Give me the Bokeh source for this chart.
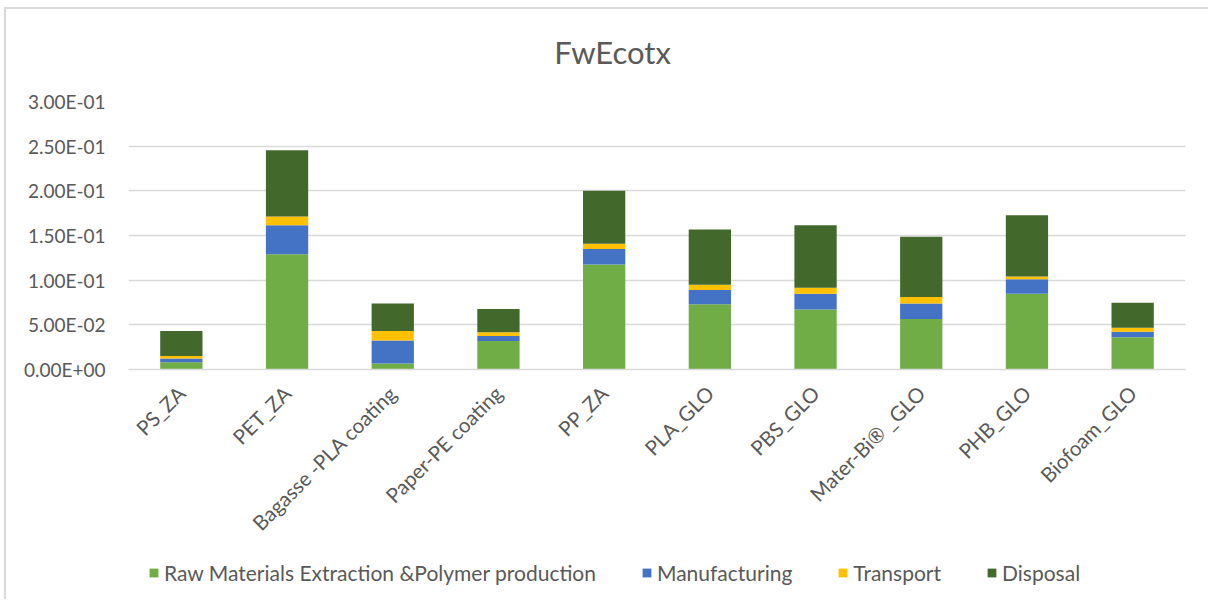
from bokeh.plotting import figure
from bokeh.layouts import column
from bokeh.models import (FixedTicker, CustomJSTickFormatter, Legend, LegendItem,
                          Label, Range1d)
from bokeh.embed import file_html
from bokeh.resources import INLINE
import math

# Freshwater ecotoxicity per life-cycle stage
categories = ["PS_ZA", "PET_ZA", "Bagasse -PLA coating", "Paper-PE coating", "PP_ZA",
              "PLA_GLO", "PBS_GLO", "Mater-Bi\u00ae _GLO", "PHB_GLO", "Biofoam_GLO"]
raw_materials = [0.0082, 0.1290, 0.0067, 0.0320, 0.1176, 0.0730, 0.0673, 0.0565, 0.0849, 0.0360]
manufacturing = [0.0041, 0.0326, 0.0258, 0.0056, 0.0172, 0.0161, 0.0176, 0.0175, 0.0161, 0.0063]
transport = [0.0027, 0.0097, 0.0105, 0.0042, 0.0060, 0.0057, 0.0067, 0.0072, 0.0030, 0.0044]
disposal = [0.0280, 0.0740, 0.0310, 0.0258, 0.0592, 0.0618, 0.0700, 0.0673, 0.0688, 0.0280]

stages = ["Raw Materials Extraction &Polymer production", "Manufacturing", "Transport", "Disposal"]
stage_keys = ["raw", "manuf", "trans", "disp"]
colors = ["#70ad47", "#4472c4", "#ffc000", "#43682b"]
y_ticks = [0.0, 0.05, 0.10, 0.15, 0.20, 0.25, 0.30]
chart_title = "FwEcotx"

FONT = "Lato"
GREY = "#595959"
W = 1202
BORDER_L, BORDER_R = 122, 23          # frame insets shared by every row of the column
FRAME_X0, FRAME_X1 = BORDER_L, W - BORDER_R


def strip(height):
    """A bare, axis-less row; the column aligns its frame with the chart's frame,
    so its x range is given in the column's pixel coordinates."""
    f = figure(width=W, height=height, x_range=Range1d(FRAME_X0, FRAME_X1),
               y_range=Range1d(0, height),
               output_backend="svg", toolbar_location=None,
               x_axis_location=None, y_axis_location=None,
               min_border_left=BORDER_L, min_border_right=BORDER_R,
               min_border_top=0, min_border_bottom=0)
    f.grid.grid_line_color = None
    f.outline_line_color = None
    f.border_fill_color = "white"
    f.background_fill_color = "white"
    return f


# ---- title strip ----
tf = strip(60)
tf.add_layout(Label(x=606, y=18, text=chart_title, text_align="center",
                    text_baseline="middle", text_font=FONT, text_font_size="31px",
                    text_color=GREY))

# ---- main chart ----
source = dict(cat=categories, raw=raw_materials, manuf=manufacturing,
              trans=transport, disp=disposal)

p = figure(x_range=categories, y_range=Range1d(0, 0.30),
           width=W, height=480, output_backend="svg", toolbar_location=None,
           min_border_left=BORDER_L, min_border_right=BORDER_R,
           min_border_top=32, min_border_bottom=180)
p.outline_line_color = None
p.background_fill_color = "white"
p.border_fill_color = "white"

p.vbar_stack(stage_keys, x="cat", width=0.4, source=source,
             color=colors, line_color=None)

p.yaxis.ticker = FixedTicker(ticks=y_ticks)
p.yaxis.formatter = CustomJSTickFormatter(code="""
    if (tick === 0) { return "0.00E+00"; }
    const e = Math.floor(Math.log10(Math.abs(tick)) + 1e-9);
    const m = tick / Math.pow(10, e);
    const s = e < 0 ? "-" : "+";
    return m.toFixed(2) + "E" + s + String(Math.abs(e)).padStart(2, "0");
""")
p.yaxis.axis_line_color = None
p.yaxis.major_tick_line_color = None
p.yaxis.minor_tick_line_color = None
p.yaxis.major_label_standoff = 17
p.yaxis.major_label_text_font = FONT
p.yaxis.major_label_text_font_size = "19px"
p.yaxis.major_label_text_color = GREY

p.xaxis.axis_line_color = "#d9d9d9"
p.xaxis.axis_line_width = 1.5
p.xaxis.major_tick_line_color = None
p.xaxis.minor_tick_line_color = None
p.xaxis.major_label_orientation = math.pi / 4
p.xaxis.major_label_standoff = 14
p.xaxis.major_label_text_font = FONT
p.xaxis.major_label_text_font_size = "20.5px"
p.xaxis.major_label_text_color = GREY

p.xgrid.grid_line_color = None
p.ygrid.grid_line_color = "#d9d9d9"
p.ygrid.grid_line_width = 1.5

# ---- legend strip ----
lf = strip(50)
# swatch renderers sit below the visible range; only their legend glyphs show
swatches = [lf.vbar(x=[600], top=[-20], bottom=[-30], width=10, color=c, line_color=None)
            for c in colors]
legend = Legend(items=[LegendItem(label=name, renderers=[r])
                       for name, r in zip(stages, swatches)],
                location=(20, 14), orientation="horizontal",
                padding=0, margin=0, spacing=45,
                glyph_width=11, glyph_height=11, label_standoff=5,
                label_text_font=FONT, label_text_font_size="21px",
                label_text_color=GREY, border_line_color=None,
                background_fill_alpha=0)
lf.add_layout(legend, "center")

layout = column(tf, p, lf, spacing=0, margin=(7, 0, 0, 4),
                styles={"border-top": "2px solid #d9d9d9",
                        "border-left": "2px solid #d9d9d9"})

open("out.html", "w").write(file_html(layout, INLINE))
